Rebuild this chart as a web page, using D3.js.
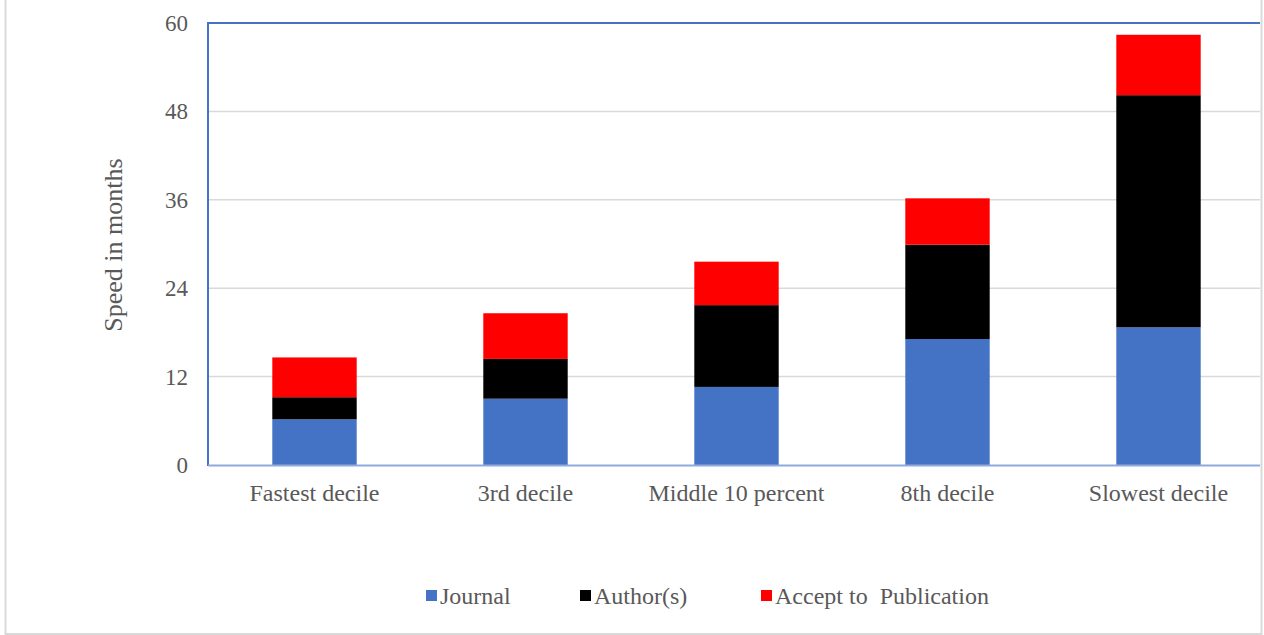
<!DOCTYPE html>
<html>
<head>
<meta charset="utf-8">
<script src="https://cdn.jsdelivr.net/npm/d3@7"></script>
<style>
  body { margin: 0; background: #fff; }
  text { font-family: "Liberation Serif", "Times New Roman", serif; fill: #595959; }
</style>
</head>
<body>
<div id="chart-holder"></div>
<script>
// chart data
var categories = ["Fastest decile", "3rd decile", "Middle 10 percent", "8th decile", "Slowest decile"];
var journal = [6.2, 9.0, 10.6, 17.1, 18.7];
var authors = [3.0, 5.4, 11.1, 12.8, 31.5];
var acceptToPub = [5.4, 6.2, 5.9, 6.3, 8.2];
var seriesNames = ["Journal", "Author(s)", "Accept to  Publication"];
var seriesColors = ["#4472c4", "#000000", "#ff0000"];
var yTicks = [0, 12, 24, 36, 48, 60];

var width = 1264, height = 635;
var margin = { left: 209, right: 0, top: 23, bottom: 170 };

var svg = d3.select("#chart-holder")
  .append("svg")
  .attr('width', width)
  .attr('height', height);

// outer chart border
svg.append("rect")
  .attr('x', 5.5).attr('y', -2)
  .attr('width', 1256).attr('height', 636)
  .attr('fill', 'none')
  .attr('stroke', '#d9d9d9')
  .attr('stroke-width', 2);

// build table for stacking
var table = categories.map(function(c, i) {
  return { cat: c, s0: journal[i], s1: authors[i], s2: acceptToPub[i] };
});
var stack = d3.stack().keys(["s0", "s1", "s2"]);
var layers = stack(table);

var x = d3.scaleBand()
  .domain(categories)
  .range([margin.left, width - margin.right])
  .paddingInner(0.6)
  .paddingOuter(0.3);

var y = d3.scaleLinear()
  .domain([0, 60])
  .range([height - margin.bottom, margin.top]);

// gridlines
svg.selectAll("line.grid")
  .data(yTicks.filter(function(t) { return t > 0 && t < 60; }))
  .enter()
  .append("line")
  .attr('class', 'grid')
  .attr('x1', margin.left).attr('x2', 1260)
  .attr('y1', function(d) { return y(d); })
  .attr('y2', function(d) { return y(d); })
  .attr('stroke', '#d9d9d9')
  .attr('stroke-width', 1.5);

// bars
svg.selectAll("g.layer")
  .data(layers)
  .enter()
  .append("g")
  .attr('class', 'layer')
  .attr('fill', function(d, i) { return seriesColors[i]; })
  .selectAll("rect")
  .data(function(d) { return d; })
  .enter()
  .append("rect")
  .attr('x', function(d) { return x(d.data.cat); })
  .attr('y', function(d) { return y(d[1]); })
  .attr('width', x.bandwidth())
  .attr('height', function(d) { return y(d[0]) - y(d[1]); });

// plot frame: top and left blue, bottom lighter
svg.append("line")
  .attr('x1', margin.left - 1).attr('x2', 1260)
  .attr('y1', y(60)).attr('y2', y(60))
  .attr('stroke', '#4472c4').attr('stroke-width', 2);
svg.append("line")
  .attr('x1', margin.left - 1).attr('x2', margin.left - 1)
  .attr('y1', y(60) - 1).attr('y2', y(0) + 1)
  .attr('stroke', '#4472c4').attr('stroke-width', 2);
svg.append("line")
  .attr('x1', margin.left - 1).attr('x2', 1260)
  .attr('y1', y(0) + 0.5).attr('y2', y(0) + 0.5)
  .attr('stroke', '#8faadc').attr('stroke-width', 2);

// y tick labels
svg.selectAll("text.ytick")
  .data(yTicks)
  .enter()
  .append("text")
  .attr('class', 'ytick')
  .attr('x', 188)
  .attr('y', function(d) { return y(d) + 8; })
  .attr('text-anchor', 'end')
  .style('font-size', '23px')
  .text(function(d) { return d; });

// x category labels
svg.selectAll("text.xtick")
  .data(categories)
  .enter()
  .append("text")
  .attr('class', 'xtick')
  .attr('x', function(d) { return x(d) + x.bandwidth() / 2; })
  .attr('y', 501)
  .attr('text-anchor', 'middle')
  .style('font-size', '24px')
  .text(function(d) { return d; });

// y axis title
svg.append("text")
  .attr('transform', 'translate(122,245) rotate(-90)')
  .attr('text-anchor', 'middle')
  .style('font-size', '26px')
  .text("Speed in months");

// legend
var legendX = [426, 580, 761];
var legend = svg.selectAll("g.legend")
  .data(seriesNames)
  .enter()
  .append("g")
  .attr('class', 'legend')
  .attr('transform', function(d, i) { return 'translate(' + legendX[i] + ',590)'; });
legend.append("rect")
  .attr('width', 11).attr('height', 11)
  .attr('fill', function(d, i) { return seriesColors[i]; });
legend.append("text")
  .attr('x', 14).attr('y', 14)
  .style('font-size', '24px')
  .style('white-space', 'pre')
  .text(function(d) { return d; });
</script>
</body>
</html>
